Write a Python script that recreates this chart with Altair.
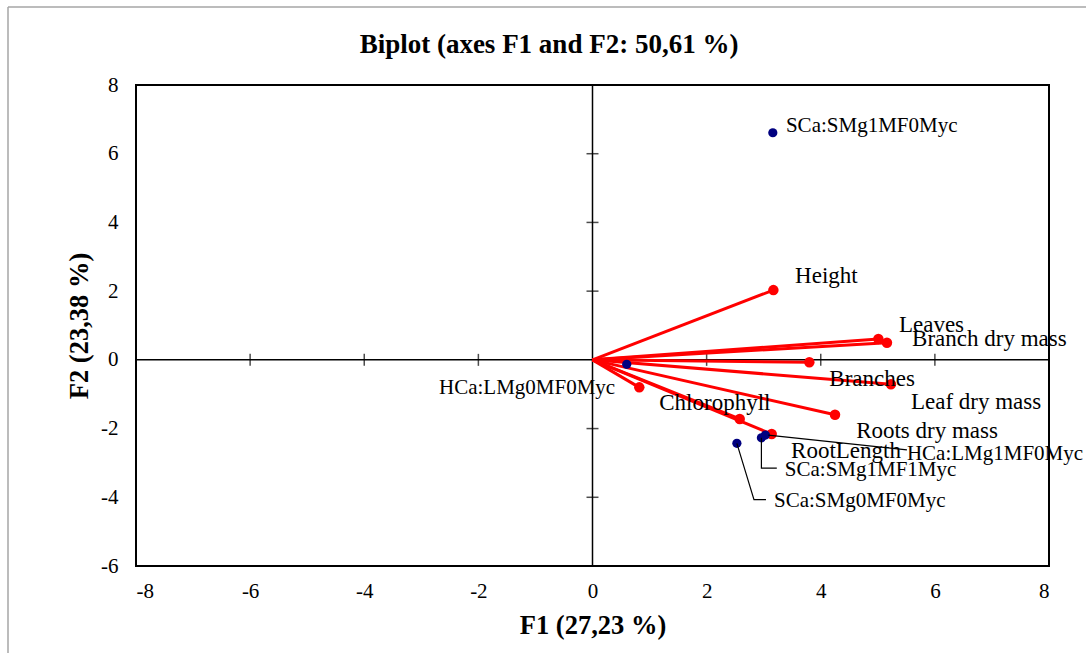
import altair as alt
import pandas as pd

# ---- data ----
var_label = ["Height", "Leaves", "Branch dry mass", "Branches", "Leaf dry mass",
             "Roots dry mass", "RootLength", "Chlorophyll", ""]
var_f1 = [3.17, 5.01, 5.16, 3.80, 5.23, 4.25, 3.14, 0.82, 2.58]
var_f2 = [2.03, 0.61, 0.50, -0.07, -0.71, -1.60, -2.16, -0.80, -1.72]
var_label_f1 = [3.55, 5.37, 5.60, 4.15, 5.58, 4.62, 3.48, 1.17, 2.93]
var_label_f2 = [2.44, 1.02, 0.61, -0.56, -1.23, -2.07, -2.65, -1.25, -2.20]

obs_label = ["SCa:SMg1MF0Myc", "HCa:LMg0MF0Myc", "HCa:LMg1MF0Myc",
             "SCa:SMg1MF1Myc", "SCa:SMg0MF0Myc"]
obs_f1 = [3.16, 0.60, 3.03, 2.96, 2.53]
obs_f2 = [6.61, -0.13, -2.19, -2.27, -2.43]
obs_label_f1 = [3.39, -2.69, 5.51, 3.37, 3.18]
obs_label_f2 = [6.81, -0.82, -2.74, -3.20, -4.10]

leader_id = ["a", "a", "b", "b", "b", "c", "c", "c"]
leader_f1 = [3.08, 5.51, 2.96, 2.96, 3.23, 2.53, 2.83, 3.04]
leader_f2 = [-2.19, -2.62, -2.27, -3.15, -3.15, -2.43, -4.07, -4.07]

x_ticks = [-8, -6, -4, -2, 0, 2, 4, 6, 8]
y_ticks = [-6, -4, -2, 0, 2, 4, 6, 8]
x_cross = [-6, -4, -2, 2, 4, 6]
y_cross = [-4, -2, 2, 4, 6]

chart_title = "Biplot (axes F1 and F2: 50,61 %)"

FONT = "Liberation Serif"
W, H = 913, 481

var_df = pd.DataFrame({"name": var_label, "f1": var_f1, "f2": var_f2,
                       "lx": var_label_f1, "ly": var_label_f2})
var_df["o1"] = 0.0
var_df["o2"] = 0.0
obs_df = pd.DataFrame({"name": obs_label, "f1": obs_f1, "f2": obs_f2,
                       "lx": obs_label_f1, "ly": obs_label_f2})
lead_df = pd.DataFrame({"id": leader_id, "f1": leader_f1, "f2": leader_f2,
                        "k": list(range(len(leader_id)))})
xc_df = pd.DataFrame({"v": x_cross, "z": 0.0})
yc_df = pd.DataFrame({"v": y_cross, "z": 0.0})

xs = alt.Scale(domain=[-8, 8], nice=False, zero=False)
ys = alt.Scale(domain=[-6, 8], nice=False, zero=False)

common_axis = dict(grid=False, ticks=False, domain=False,
                   labelFont=FONT, labelFontSize=21, labelColor="black",
                   labelExpr="'' + datum.value",
                   titleFont=FONT, titleFontSize=26.5, titleFontWeight="bold",
                   titleColor="black")
xaxis = alt.Axis(values=x_ticks, title="F1 (27,23 %)", labelPadding=14,
                 titlePadding=11, **common_axis)
yaxis = alt.Axis(values=y_ticks, title="F2 (23,38 %)", labelPadding=18,
                 titlePadding=7, **common_axis)

base_x = alt.X("f1:Q", scale=xs, axis=xaxis)
base_y = alt.Y("f2:Q", scale=ys, axis=yaxis)

one = pd.DataFrame({"a": [0]})

# outer light frame (decoration)
frame_top = alt.Chart(one).mark_rule(color="#a6a6a6", strokeWidth=1.5).encode(
    x=alt.value(-128), x2=alt.value(1086 - 136), y=alt.value(-78))
frame_left = alt.Chart(one).mark_rule(color="#a6a6a6", strokeWidth=1.5).encode(
    x=alt.value(-128), y=alt.value(-78), y2=alt.value(653 - 85))

# chart title (drawn as text so it is centred over the whole chart area)
title_txt = alt.Chart(one).mark_text(
    text=chart_title, font=FONT, fontSize=27, fontWeight="bold", color="black",
    align="center", baseline="alphabetic").encode(
    x=alt.value(549 - 136), y=alt.value(53 - 85))

zero_x = alt.Chart(pd.DataFrame({"f2": [0.0]})).mark_rule(
    color="black", strokeWidth=1.5).encode(y=alt.Y("f2:Q", scale=ys, axis=yaxis))
zero_y = alt.Chart(pd.DataFrame({"f1": [0.0]})).mark_rule(
    color="black", strokeWidth=1.5).encode(x=alt.X("f1:Q", scale=xs, axis=xaxis))

xcross = alt.Chart(xc_df).mark_tick(
    color="black", thickness=1.5, size=12, orient="vertical").encode(
    x=alt.X("v:Q", scale=xs, axis=xaxis), y=alt.Y("z:Q", scale=ys, axis=yaxis))
ycross = alt.Chart(yc_df).mark_tick(
    color="black", thickness=1.5, size=12, orient="horizontal").encode(
    x=alt.X("z:Q", scale=xs, axis=xaxis), y=alt.Y("v:Q", scale=ys, axis=yaxis))

arrows = alt.Chart(var_df).mark_rule(color="#ff0000", strokeWidth=3).encode(
    x=alt.X("o1:Q", scale=xs, axis=xaxis), y=alt.Y("o2:Q", scale=ys, axis=yaxis),
    x2="f1:Q", y2="f2:Q")
var_pts = alt.Chart(var_df).mark_circle(color="#ff0000", opacity=1, size=110).encode(
    x=base_x, y=base_y)
obs_pts = alt.Chart(obs_df).mark_circle(color="#000080", opacity=1, size=85).encode(
    x=base_x, y=base_y)
leaders = alt.Chart(lead_df).mark_line(color="black", strokeWidth=1.2).encode(
    x=base_x, y=base_y, detail="id:N", order="k:Q")

var_txt = alt.Chart(var_df).mark_text(
    font=FONT, fontSize=23, align="left", baseline="middle", color="black").encode(
    x=alt.X("lx:Q", scale=xs, axis=xaxis), y=alt.Y("ly:Q", scale=ys, axis=yaxis),
    text="name:N")
obs_txt = alt.Chart(obs_df).mark_text(
    font=FONT, fontSize=21, align="left", baseline="middle", color="black").encode(
    x=alt.X("lx:Q", scale=xs, axis=xaxis), y=alt.Y("ly:Q", scale=ys, axis=yaxis),
    text="name:N")

chart = alt.layer(
    frame_top, frame_left, title_txt, zero_x, zero_y, xcross, ycross,
    arrows, var_pts, obs_pts, leaders, var_txt, obs_txt
).properties(
    width=W, height=H,
    autosize=alt.AutoSizeParams(type="none"),
    padding={"left": 136, "top": 85, "right": 37, "bottom": 87},
    background="white",
).configure_view(
    stroke="black", strokeWidth=2
)

chart.save("out.html", embed_options={"renderer": "svg", "actions": False})
